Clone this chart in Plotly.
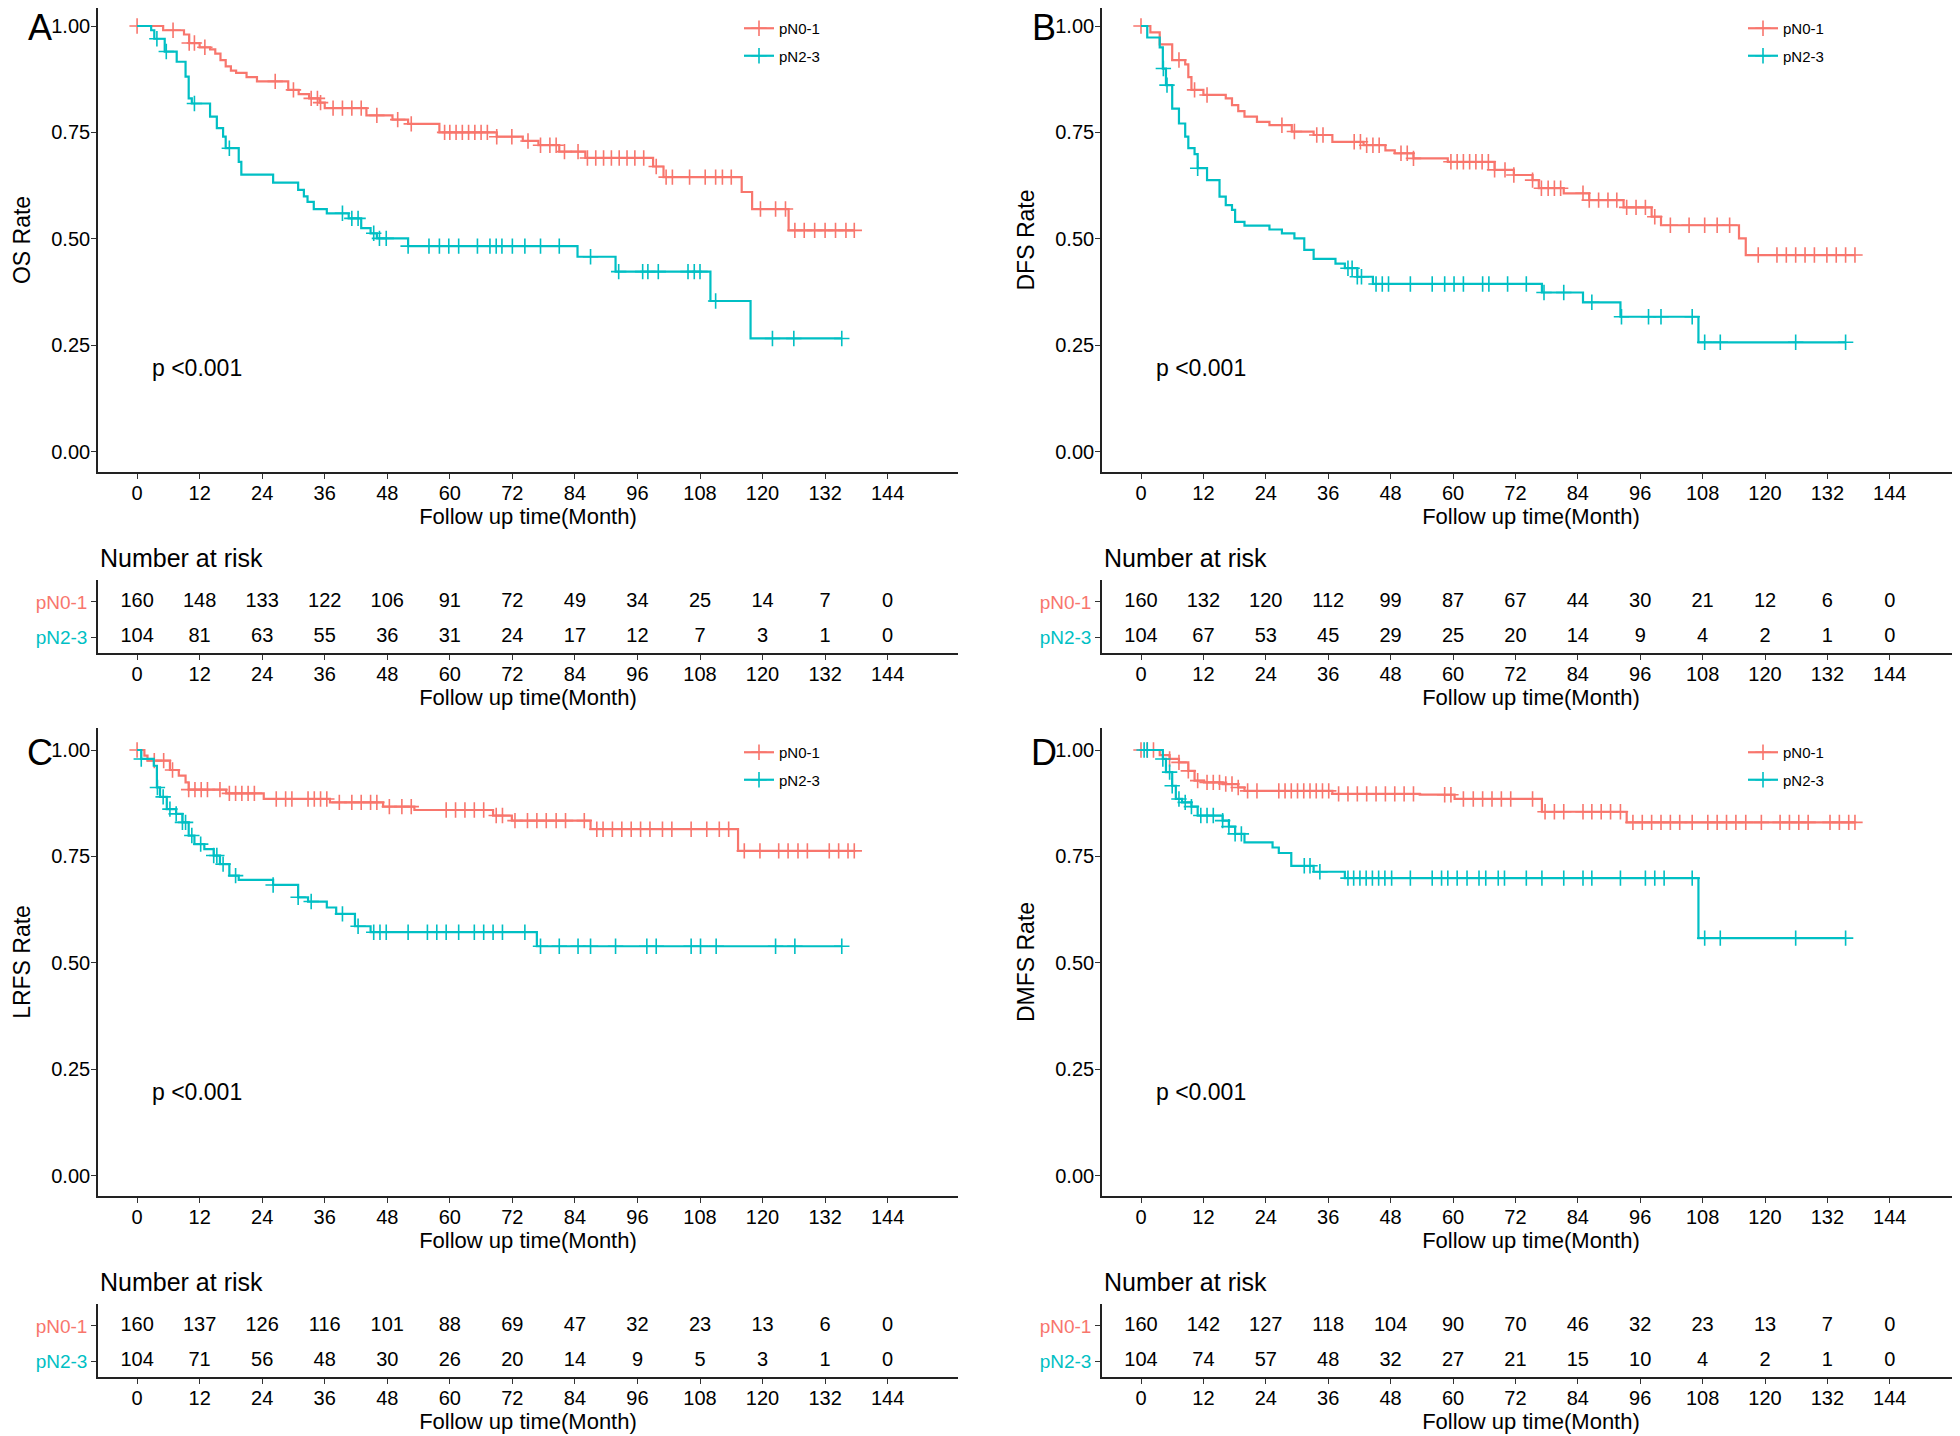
import plotly.graph_objects as go

# ---------------- data ----------------
groups = ["pN0-1", "pN2-3"]
colors = ["#F8766D", "#00BFC4"]
panel_letters = ["A", "B", "C", "D"]
y_titles = ["OS Rate", "DFS Rate", "LRFS Rate", "DMFS Rate"]
p_texts = ["p <0.001", "p <0.001", "p <0.001", "p <0.001"]
risk_times = [0, 12, 24, 36, 48, 60, 72, 84, 96, 108, 120, 132, 144]
y_ticks = [0.0, 0.25, 0.5, 0.75, 1.0]
y_ticklabels = ["0.00", "0.25", "0.50", "0.75", "1.00"]

# Panel A (OS)
A_red_t = [5, 9, 10, 12, 14, 15, 16, 17, 18, 19, 21, 23, 29, 31, 33, 35, 36, 44, 49, 52, 58, 69, 74, 77, 81, 86, 99, 101, 116, 118, 125]
A_red_s = [0.99, 0.98, 0.96, 0.95, 0.945, 0.935, 0.92, 0.905, 0.895, 0.89, 0.88, 0.87, 0.85, 0.84, 0.83, 0.82, 0.807, 0.79, 0.78, 0.77, 0.75, 0.74, 0.73, 0.72, 0.705, 0.69, 0.67, 0.645, 0.61, 0.57, 0.52]
A_red_c = [0, 6.9, 10, 11, 13, 26.5, 30, 33.4, 34.6, 35.2, 37.6, 39.4, 41.2, 43, 46, 50, 52.6, 59, 60, 61.2, 62.4, 63.6, 64.8, 66, 67.2, 69, 71.9, 75, 77.4, 79.2, 80.4, 82, 84.6, 86.4, 88, 89.5, 91, 92.5, 94, 95.5, 97.2, 99.6, 101.5, 102.7, 106, 109, 111, 112.3, 114, 119.6, 122.5, 124.4, 126.2, 128, 130, 132, 134, 136, 137.6]
A_teal_t = [2.7, 3.3, 5.3, 7.6, 9.3, 9.9, 10.5, 14, 15.3, 16.5, 17, 19.5, 20, 26.1, 30.9, 32, 32.7, 33.9, 36.4, 40.6, 43, 44.8, 46, 52, 84.5, 91.8, 110, 117.7]
A_teal_s = [0.99, 0.97, 0.94, 0.916, 0.881, 0.83, 0.818, 0.787, 0.76, 0.74, 0.713, 0.681, 0.651, 0.632, 0.615, 0.60, 0.587, 0.57, 0.56, 0.548, 0.525, 0.513, 0.501, 0.483, 0.458, 0.423, 0.354, 0.266]
A_teal_c = [3.8, 5.6, 11, 17.7, 39.4, 41.2, 42.4, 45.4, 46.5, 47.8, 52, 56, 58, 59.8, 61.7, 65.3, 67.7, 68.9, 70, 72, 74.4, 77.4, 81, 87, 92.4, 97, 98, 100, 105.7, 106.9, 108, 111, 121.9, 126, 135.2]
A_risk_red = [160, 148, 133, 122, 106, 91, 72, 49, 34, 25, 14, 7, 0]
A_risk_teal = [104, 81, 63, 55, 36, 31, 24, 17, 12, 7, 3, 1, 0]

# Panel B (DFS)
B_red_t = [1.8, 3.6, 6, 8.5, 9.1, 9.7, 12, 16.3, 17.5, 18.7, 19.9, 22.3, 24.7, 29, 33.2, 36.8, 42.8, 47, 48.8, 52.4, 59, 68, 71.7, 75.3, 76.5, 81.3, 86.2, 92.8, 98.2, 100, 115, 116.3]
B_red_s = [0.985, 0.957, 0.92, 0.91, 0.88, 0.85, 0.838, 0.83, 0.814, 0.80, 0.787, 0.775, 0.767, 0.752, 0.744, 0.728, 0.72, 0.708, 0.701, 0.689, 0.681, 0.662, 0.65, 0.638, 0.619, 0.607, 0.591, 0.574, 0.552, 0.532, 0.501, 0.462]
B_red_c = [0, 7.3, 10.3, 12.7, 27.1, 29.5, 33.8, 35, 41, 42.2, 43.4, 44.6, 45.8, 50, 51.2, 52.4, 59.6, 60.8, 62, 63.2, 64.4, 65.6, 66.8, 68, 70, 71.7, 75.3, 77, 78.3, 79.5, 80.7, 85, 86.2, 88, 89.8, 91.5, 93.4, 95.2, 97, 98.8, 101.8, 105.4, 108.4, 110.8, 113.2, 118.7, 122.3, 124.1, 125.9, 127.7, 129.5, 131.9, 133.7, 135.5, 137.3]
B_teal_t = [1.2, 3.6, 4.2, 4.8, 6, 7.3, 8.5, 9.1, 10.3, 10.9, 12.7, 15.1, 16.3, 17.5, 18.1, 19.9, 24.7, 27.1, 29.5, 31.4, 33.2, 37.4, 39.2, 41.6, 44.6, 77.1, 85, 92.2, 107.2]
B_teal_s = [0.973, 0.95, 0.90, 0.861, 0.806, 0.771, 0.74, 0.713, 0.699, 0.666, 0.638, 0.599, 0.579, 0.568, 0.540, 0.531, 0.522, 0.513, 0.501, 0.474, 0.453, 0.442, 0.431, 0.411, 0.394, 0.374, 0.351, 0.317, 0.257]
B_teal_c = [4.3, 5, 10.9, 39.8, 40.6, 41.6, 42.4, 45.2, 46.4, 47.6, 51.8, 56, 58.4, 60.2, 62, 65.7, 66.9, 70.5, 74.1, 77.5, 81.3, 86.7, 92.4, 97.6, 100, 106, 108.4, 111.4, 125.9, 135.5]
B_risk_red = [160, 132, 120, 112, 99, 87, 67, 44, 30, 21, 12, 6, 0]
B_risk_teal = [104, 67, 53, 45, 29, 25, 20, 14, 9, 4, 2, 1, 0]

# Panel C (LRFS)
C_red_t = [1.4, 2, 6.3, 8, 9.3, 9.9, 17.1, 24.3, 37, 47.2, 53.2, 68.3, 71.9, 87, 115.3]
C_red_s = [0.987, 0.975, 0.953, 0.94, 0.924, 0.907, 0.898, 0.885, 0.877, 0.867, 0.859, 0.846, 0.834, 0.814, 0.763]
C_red_c = [0, 3.3, 5.1, 6.8, 9.9, 11.1, 12.3, 13.5, 15.9, 17.7, 18.9, 20.1, 21.3, 22.5, 26.7, 28.5, 29.7, 32.8, 34, 35.2, 36.4, 38.8, 41.2, 43, 44.8, 46, 48.4, 50.8, 52.6, 59.3, 61.1, 62.9, 64.7, 66.5, 68.9, 70.1, 72.5, 74.9, 76.7, 78.5, 80.4, 82.2, 85.8, 88.2, 89.4, 91.2, 93, 94.8, 96.6, 98.4, 100.8, 102.6, 106.3, 109.3, 111.7, 113.5, 116.5, 119.5, 123.1, 124.9, 126.8, 128.6, 132.8, 134.6, 136.4, 137.6]
C_teal_t = [0.8, 3.2, 3.8, 4.4, 5.7, 7.5, 8.7, 9.9, 11, 12.9, 14.7, 15.9, 17.7, 19.5, 26.1, 30.9, 32.8, 36.4, 38.2, 41.8, 44.8, 76.7]
C_teal_s = [0.979, 0.963, 0.912, 0.890, 0.861, 0.850, 0.830, 0.799, 0.779, 0.767, 0.752, 0.732, 0.705, 0.695, 0.683, 0.654, 0.644, 0.630, 0.615, 0.586, 0.572, 0.539]
C_teal_c = [0.8, 3.9, 5, 6.3, 7.5, 8.7, 9.3, 10.5, 12.2, 14.7, 15.3, 16.5, 18.9, 26.1, 30.9, 33.4, 39.4, 42.4, 45.4, 46.6, 47.8, 52, 55.7, 57.5, 59.3, 61.7, 64.7, 66.5, 68.3, 70.1, 74.4, 77.4, 81, 84.6, 87, 91.8, 97.8, 99.6, 106.3, 108.1, 111.1, 122.5, 126.2, 135.2]
C_risk_red = [160, 137, 126, 116, 101, 88, 69, 47, 32, 23, 13, 6, 0]
C_risk_teal = [104, 71, 56, 48, 30, 26, 20, 14, 9, 5, 3, 1, 0]

# Panel D (DMFS)
D_red_t = [3.6, 5.5, 7.3, 9.1, 10.3, 12.1, 15.7, 18.7, 19.9, 36.8, 53.6, 60.3, 77.1, 93.4]
D_red_s = [0.988, 0.979, 0.971, 0.951, 0.928, 0.924, 0.920, 0.912, 0.904, 0.897, 0.895, 0.885, 0.855, 0.830]
D_red_c = [0, 1.2, 2.4, 5.5, 7.3, 9.1, 10.9, 12.7, 13.9, 15.1, 16.3, 17.5, 18.7, 20.5, 22.3, 26.5, 27.7, 28.9, 30.1, 31.3, 32.5, 33.7, 34.9, 36.1, 38, 39.8, 41.6, 43.4, 45.2, 47, 48.8, 50.6, 52.4, 58.4, 59.6, 62, 63.9, 65.7, 67.5, 69.3, 71.1, 75.3, 77.7, 79.5, 81.3, 85, 86.7, 88.5, 90.3, 92.2, 94.6, 96.4, 98.2, 100, 101.8, 103.6, 106, 109, 110.8, 112.6, 114.4, 116.3, 119.3, 122.9, 124.7, 126.5, 128.3, 132.5, 134.3, 136.1, 137.3]
D_teal_t = [4.2, 4.8, 6, 6.7, 7.9, 9.7, 10.9, 15.7, 16.9, 18.1, 19.9, 25.3, 26.5, 28.9, 33.2, 39.2, 107.2]
D_teal_s = [0.979, 0.948, 0.916, 0.885, 0.877, 0.867, 0.846, 0.834, 0.820, 0.803, 0.783, 0.771, 0.758, 0.728, 0.714, 0.699, 0.558]
D_teal_c = [0.6, 1.2, 4.2, 5.5, 6, 7.3, 8.5, 9.7, 11.5, 12.7, 13.9, 15.7, 16.9, 18.1, 19.3, 31.4, 32.5, 34.4, 39.8, 40.9, 42.1, 43.3, 44.5, 45.7, 46.9, 48.2, 51.8, 56, 57.8, 59, 60.8, 62.7, 65, 66.3, 68.7, 69.9, 74.1, 77.1, 81.3, 85, 86.7, 92.2, 97, 98.8, 100.6, 106, 108.4, 111.4, 125.9, 135.5]
D_risk_red = [160, 142, 127, 118, 104, 90, 70, 46, 32, 23, 13, 7, 0]
D_risk_teal = [104, 74, 57, 48, 32, 27, 21, 15, 10, 4, 2, 1, 0]

panels = [
    (A_red_t, A_red_s, A_red_c, A_teal_t, A_teal_s, A_teal_c, A_risk_red, A_risk_teal),
    (B_red_t, B_red_s, B_red_c, B_teal_t, B_teal_s, B_teal_c, B_risk_red, B_risk_teal),
    (C_red_t, C_red_s, C_red_c, C_teal_t, C_teal_s, C_teal_c, C_risk_red, C_risk_teal),
    (D_red_t, D_red_s, D_red_c, D_teal_t, D_teal_s, D_teal_c, D_risk_red, D_risk_teal),
]

# ---------------- layout helpers ----------------
PAGE_W, PAGE_H = 1960, 1436
BODY = 8                      # default page margin around the plot div
W, H = PAGE_W - BODY, PAGE_H - BODY
FONT = "Liberation Sans, Arial, sans-serif"


def px_x(p):
    return min(1.0, max(0.0, (p - BODY) / W))


def px_y(p):
    return min(1.0, max(0.0, 1 - (p - BODY) / H))


def surv_at(t_list, s_list, c):
    val = 1.0
    for t, s in zip(t_list, s_list):
        if t <= c:
            val = s
    return val


fig = go.Figure()

col_x = [(98, 958), (1102, 1960)]
row_off = [0, 724]
PX_PER_UNIT = 425.7

layout_upd = {}
annotations = []

for i, pdata in enumerate(panels):
    r, c = divmod(i, 2)
    x0, x1 = col_x[c]
    off = row_off[r]
    km_ax = 2 * i + 1
    tb_ax = 2 * i + 2
    km_x = "x" if km_ax == 1 else f"x{km_ax}"
    km_y = "y" if km_ax == 1 else f"y{km_ax}"
    tb_x = f"x{tb_ax}"
    tb_y = f"y{tb_ax}"
    legname = "legend" if i == 0 else f"legend{i + 1}"

    rt, rs, rc, tt, ts, tc, rr, tr = pdata
    for g, (t, s, cen, col) in enumerate([(rt, rs, rc, colors[0]), (tt, ts, tc, colors[1])]):
        end = max(cen)
        xs = [0] + list(t) + [end]
        ys = [1.0] + list(s) + [s[-1]]
        fig.add_trace(go.Scatter(x=xs, y=ys, mode="lines", line=dict(color=col, width=2.2, shape="hv"),
                                 xaxis=km_x, yaxis=km_y, showlegend=False, hoverinfo="skip"))
        cy = [surv_at(t, s, cc) for cc in cen]
        fig.add_trace(go.Scatter(x=cen, y=cy, mode="markers",
                                 marker=dict(symbol="cross-thin", size=11, color=col,
                                             line=dict(color=col, width=1.6)),
                                 xaxis=km_x, yaxis=km_y, showlegend=False, hoverinfo="skip"))
        fig.add_trace(go.Scatter(x=[None], y=[None], mode="lines+markers", name=groups[g],
                                 line=dict(color=col, width=2.2),
                                 marker=dict(symbol="cross-thin", size=11, color=col,
                                             line=dict(color=col, width=1.6)),
                                 xaxis=km_x, yaxis=km_y, legend=legname, legendgroup=f"{i}_{g}",
                                 showlegend=True))
    for g, vals in enumerate([rr, tr]):
        fig.add_trace(go.Scatter(x=risk_times, y=[2 - g] * len(risk_times), mode="text",
                                 text=[str(v) for v in vals],
                                 textfont=dict(size=20, color="black", family=FONT),
                                 xaxis=tb_x, yaxis=tb_y, showlegend=False, hoverinfo="skip"))

    top_px = max(4 + off, BODY)
    bot_px = 472 + off
    one_px = 26 + off
    rng_top = 1 + (one_px - top_px) / PX_PER_UNIT
    rng_bot = -(bot_px - (one_px + PX_PER_UNIT)) / PX_PER_UNIT

    xdom = [px_x(x0), px_x(x1)]
    common_x = dict(domain=xdom, range=[-7.5, 157.5], tickvals=risk_times, ticks="outside", ticklen=5,
                    tickcolor="#333333", tickwidth=1.2, showline=True, linecolor="#222222", linewidth=1.6,
                    showgrid=False, zeroline=False, automargin=False, ticklabelstandoff=-3,
                    tickfont=dict(size=20, color="black", family=FONT),
                    title=dict(text="Follow up time(Month)", font=dict(size=22, color="black", family=FONT),
                               standoff=4))
    k = "" if km_ax == 1 else str(km_ax)
    layout_upd["xaxis" + k] = dict(common_x, anchor=km_y)
    layout_upd["yaxis" + k] = dict(domain=[px_y(bot_px), px_y(top_px)], range=[rng_bot, rng_top],
                                   tickvals=y_ticks, ticktext=y_ticklabels, ticks="outside", ticklen=5,
                                   tickcolor="#333333", tickwidth=1.2, showline=True, linecolor="#222222",
                                   linewidth=1.6, showgrid=False, zeroline=False, automargin=False,
                                   ticklabelstandoff=-3,
                                   anchor=km_x, tickfont=dict(size=20, color="black", family=FONT),
                                   title=dict(text=y_titles[i], font=dict(size=23, color="black", family=FONT),
                                              standoff=14))
    layout_upd[f"xaxis{tb_ax}"] = dict(common_x, anchor=tb_y)
    layout_upd[f"yaxis{tb_ax}"] = dict(domain=[px_y(653 + off), px_y(580 + off)], range=[0.55, 2.62],
                                       tickvals=[2, 1],
                                       ticktext=[f'<span style="color:{colors[0]}">{groups[0]}</span>',
                                                 f'<span style="color:{colors[1]}">{groups[1]}</span>'],
                                       ticks="outside", ticklen=5, tickcolor="#333333", tickwidth=1.2,
                                       showline=True, linecolor="#222222", linewidth=1.6, showgrid=False,
                                       zeroline=False, automargin=False, anchor=tb_x, ticklabelstandoff=0,
                                       tickfont=dict(size=19, family=FONT))
    layout_upd[legname] = dict(x=px_x(x0 + 641), y=px_y(12 + off), xanchor="left", yanchor="top",
                               bgcolor="rgba(0,0,0,0)", font=dict(size=15, color="black", family=FONT),
                               tracegroupgap=5, itemwidth=30)
    annotations.append(dict(text="Number at risk", x=px_x(x0), y=px_y(558 + off), xref="paper", yref="paper",
                            xanchor="left", yanchor="middle", showarrow=False,
                            font=dict(size=25, color="black", family=FONT)))
    annotations.append(dict(text=panel_letters[i], x=px_x(x0 - 58), y=px_y(28 + off), xref="paper", yref="paper",
                            xanchor="center", yanchor="middle", showarrow=False,
                            font=dict(size=36, color="black", family=FONT)))
    annotations.append(dict(text=p_texts[i], x=2.5, y=0.197, xref=km_x, yref=km_y, xanchor="left",
                            yanchor="middle", showarrow=False, font=dict(size=23, color="black", family=FONT)))

fig.update_layout(**layout_upd)
fig.update_layout(width=W, height=H, margin=dict(l=0, r=0, t=0, b=0), plot_bgcolor="white",
                  paper_bgcolor="white", annotations=annotations, font=dict(family=FONT))

fig.write_html("out.html")
